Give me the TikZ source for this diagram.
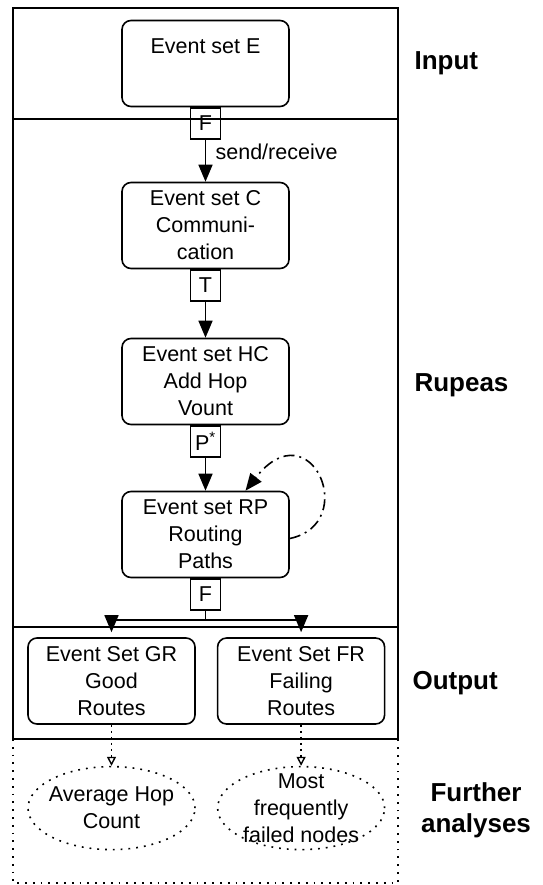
\documentclass[tikz,border=0pt]{standalone}
\usepackage{fontspec}
\setmainfont{Liberation Sans}
\usetikzlibrary{shapes.geometric, arrows.meta, positioning, calc}

\begin{document}
\begin{tikzpicture}[
  x=1pt, y=1pt,
  node distance=36pt and 21pt,
  block/.style={draw, rectangle, rounded corners=9pt, line width=1.6pt,
                minimum width=167pt, minimum height=86pt, inner sep=3pt,
                align=center, font=\fontsize{21.5}{27}\selectfont},
  tag/.style={draw, rectangle, line width=1.4pt,
              minimum width=30pt, minimum height=31pt, inner sep=0pt,
              font=\fontsize{21.5}{27}\selectfont},
  further/.style={draw, ellipse, line width=1.6pt,
                  dash pattern=on 1.8pt off 6pt,
                  minimum width=167pt, minimum height=83pt, inner sep=0pt},
  ovaltext/.style={align=center, inner sep=0pt,
                   font=\fontsize{21.5}{27}\selectfont},
  arrow/.style={-{Triangle[length=17pt,width=14pt]}, line width=1.6pt},
  dotarrow/.style={-{Triangle[open,length=9pt,width=9pt]}, line width=1.4pt,
                   dash pattern=on 2pt off 4pt},
  selfloop/.style={-{Triangle[length=17pt,width=14pt]}, line width=1.6pt,
                   dash pattern=on 11pt off 5pt on 2pt off 5pt},
  stage/.style={font=\fontsize{26}{31}\selectfont\bfseries, align=center},
  panel/.style={line width=2pt},
]
\useasboundingbox (0,0) rectangle (542,-885);

%% Frames
\draw[panel] (13,-8) rectangle (398,-739);
\draw[panel] (13,-119) -- (398,-119);
\draw[panel] (13,-627) -- (398,-627);
\draw[line width=1.8pt, dash pattern=on 1.8pt off 6pt]
  (13,-739) -- (13,-883) -- (398,-883) -- (398,-739);

%% Input
\node[block] (E) at (205.5,-63.5) {Event set E\\\strut};
\node[tag, below=0pt of E] (fE) {F};

%% Rupeas
\node[block, below=42pt of fE] (C) {Event set C\\Communi-\\cation};
\node[tag, below=0pt of C] (tC) {T};
\node[block, below=of tC] (HC) {Event set HC\\Add Hop\\Vount};
\node[tag, below=0pt of HC] (pHC) {P\textsuperscript{*}};
\node[block, below=33pt of pHC] (RP) {Event set RP\\Routing\\Paths};
\node[tag, below=0pt of RP] (fRP) {F};
\coordinate[below=9pt of fRP] (split);

%% Output
\node[block] (GR) at (111.5,-681) {Event Set GR\\Good\\Routes};
\node[block, right=of GR] (FR) {Event Set FR\\Failing\\Routes};

%% Further analyses
\node[further, below=41pt of GR,
      label={[ovaltext]center:Average Hop\\Count}] (avg) {};
\node[further, below=41pt of FR,
      label={[ovaltext]center:Most\\frequently\\failed nodes}] (most) {};

%% Arrows
\draw[arrow] (fE) -- (C)
  node[pos=0.28, right, xshift=6pt, font=\fontsize{21.5}{27}\selectfont] {send/receive};
\draw[arrow] (tC) -- (HC);
\draw[arrow] (pHC) -- (RP);
\draw[selfloop] ($(RP.east)+(0,-4)$) .. controls +(71,15) and +(65,83)
  .. ($(RP.north)+(40,0)$);
\draw[line width=1.6pt] (fRP) -- (split);
\draw[arrow, shorten >=5pt] (split) -| (GR);
\draw[arrow, shorten >=5pt] (split) -| (FR);
\draw[dotarrow] (GR) -- (avg);
\draw[dotarrow] (FR) -- (most);

%% Stage labels
\node[stage, anchor=west] (lInput) at (411,-63) {Input};
\node[stage, anchor=west] (lRupeas) at (411,-385) {Rupeas};
\node[stage, anchor=west] (lOutput) at (409,-683) {Output};
\node[stage] (lFurther) at (476,-810) {Further\\analyses};

\end{tikzpicture}
\end{document}
